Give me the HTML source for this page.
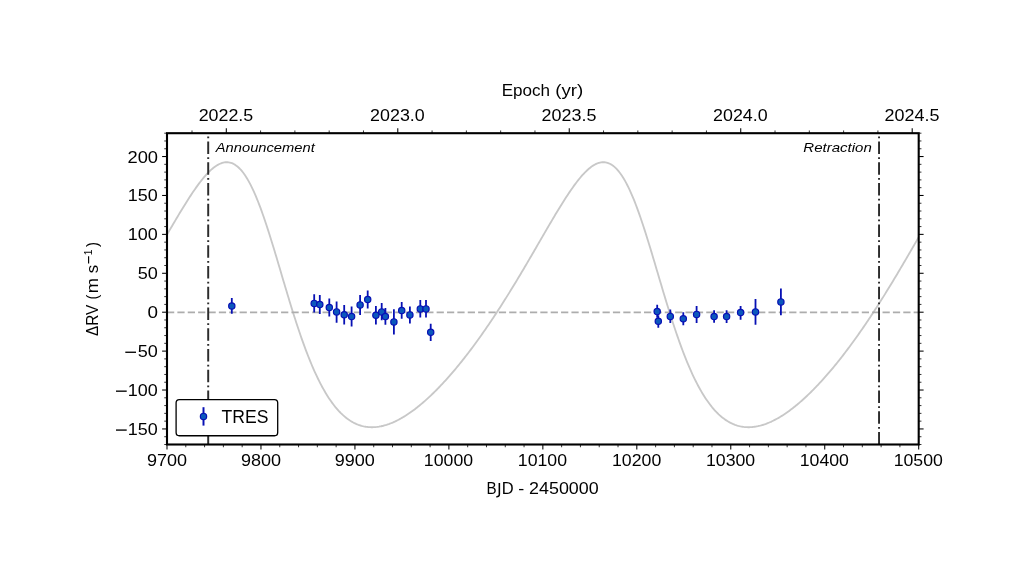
<!DOCTYPE html>
<html><head><meta charset="utf-8"><title>RV</title>
<style>html,body{margin:0;padding:0;background:#fff;}body{width:1024px;height:579px;overflow:hidden;font-family:"Liberation Sans",sans-serif;}svg{display:block}</style>
</head><body>
<svg width="1024" height="579" viewBox="0 0 1024 579">
<rect x="0" y="0" width="1024" height="579" fill="#ffffff"/>
<defs><clipPath id="ax"><rect x="167.00" y="133.20" width="751.70" height="311.30"/></clipPath></defs>
<g clip-path="url(#ax)">
<path d="M162.30,242.81 L163.39,240.93 L164.48,239.05 L165.57,237.17 L166.66,235.29 L167.75,233.41 L168.83,231.54 L169.92,229.66 L171.01,227.80 L172.10,225.93 L173.19,224.07 L174.28,222.22 L175.37,220.37 L176.46,218.53 L177.55,216.70 L178.63,214.87 L179.72,213.06 L180.81,211.25 L181.90,209.46 L182.99,207.68 L184.08,205.91 L185.17,204.16 L186.26,202.42 L187.35,200.69 L188.43,198.99 L189.52,197.30 L190.61,195.63 L191.70,193.99 L192.79,192.36 L193.88,190.76 L194.97,189.19 L196.06,187.64 L197.14,186.12 L198.23,184.63 L199.32,183.17 L200.41,181.74 L201.50,180.35 L202.59,178.99 L203.68,177.67 L204.77,176.39 L205.86,175.15 L206.94,173.96 L208.03,172.81 L209.12,171.71 L210.21,170.66 L211.30,169.65 L212.39,168.71 L213.48,167.81 L214.57,166.98 L215.65,166.20 L216.74,165.49 L217.83,164.84 L218.92,164.26 L220.01,163.74 L221.10,163.30 L222.19,162.93 L223.28,162.63 L224.37,162.41 L225.45,162.27 L226.54,162.21 L227.63,162.24 L228.72,162.35 L229.81,162.54 L230.90,162.83 L231.99,163.21 L233.08,163.68 L234.17,164.24 L235.25,164.90 L236.34,165.66 L237.43,166.51 L238.52,167.47 L239.61,168.52 L240.70,169.67 L241.79,170.93 L242.88,172.29 L243.96,173.75 L245.05,175.31 L246.14,176.98 L247.23,178.74 L248.32,180.61 L249.41,182.58 L250.50,184.65 L251.59,186.81 L252.68,189.08 L253.76,191.43 L254.85,193.88 L255.94,196.43 L257.03,199.06 L258.12,201.77 L259.21,204.57 L260.30,207.45 L261.39,210.41 L262.47,213.44 L263.56,216.54 L264.65,219.71 L265.74,222.95 L266.83,226.24 L267.92,229.59 L269.01,232.98 L270.10,236.43 L271.19,239.92 L272.27,243.45 L273.36,247.01 L274.45,250.60 L275.54,254.21 L276.63,257.85 L277.72,261.51 L278.81,265.17 L279.90,268.85 L280.98,272.53 L282.07,276.21 L283.16,279.89 L284.25,283.56 L285.34,287.21 L286.43,290.86 L287.52,294.48 L288.61,298.08 L289.70,301.66 L290.78,305.21 L291.87,308.73 L292.96,312.21 L294.05,315.66 L295.14,319.07 L296.23,322.43 L297.32,325.76 L298.41,329.03 L299.50,332.26 L300.58,335.45 L301.67,338.58 L302.76,341.65 L303.85,344.68 L304.94,347.65 L306.03,350.56 L307.12,353.42 L308.21,356.22 L309.29,358.96 L310.38,361.64 L311.47,364.26 L312.56,366.83 L313.65,369.33 L314.74,371.78 L315.83,374.16 L316.92,376.48 L318.01,378.75 L319.09,380.95 L320.18,383.10 L321.27,385.18 L322.36,387.21 L323.45,389.17 L324.54,391.08 L325.63,392.93 L326.72,394.73 L327.80,396.46 L328.89,398.14 L329.98,399.77 L331.07,401.34 L332.16,402.85 L333.25,404.31 L334.34,405.72 L335.43,407.08 L336.52,408.38 L337.60,409.63 L338.69,410.84 L339.78,411.99 L340.87,413.10 L341.96,414.15 L343.05,415.16 L344.14,416.12 L345.23,417.04 L346.32,417.91 L347.40,418.74 L348.49,419.53 L349.58,420.27 L350.67,420.97 L351.76,421.63 L352.85,422.25 L353.94,422.83 L355.03,423.36 L356.11,423.87 L357.20,424.33 L358.29,424.76 L359.38,425.14 L360.47,425.50 L361.56,425.82 L362.65,426.10 L363.74,426.35 L364.83,426.57 L365.91,426.76 L367.00,426.91 L368.09,427.03 L369.18,427.12 L370.27,427.18 L371.36,427.21 L372.45,427.22 L373.54,427.19 L374.62,427.13 L375.71,427.05 L376.80,426.94 L377.89,426.80 L378.98,426.64 L380.07,426.45 L381.16,426.24 L382.25,426.00 L383.34,425.74 L384.42,425.45 L385.51,425.14 L386.60,424.81 L387.69,424.45 L388.78,424.08 L389.87,423.67 L390.96,423.25 L392.05,422.81 L393.14,422.35 L394.22,421.86 L395.31,421.36 L396.40,420.83 L397.49,420.29 L398.58,419.72 L399.67,419.14 L400.76,418.54 L401.85,417.92 L402.93,417.28 L404.02,416.63 L405.11,415.95 L406.20,415.26 L407.29,414.55 L408.38,413.83 L409.47,413.09 L410.56,412.33 L411.65,411.56 L412.73,410.77 L413.82,409.96 L414.91,409.14 L416.00,408.30 L417.09,407.45 L418.18,406.59 L419.27,405.71 L420.36,404.81 L421.44,403.90 L422.53,402.97 L423.62,402.04 L424.71,401.08 L425.80,400.12 L426.89,399.14 L427.98,398.14 L429.07,397.14 L430.16,396.12 L431.24,395.09 L432.33,394.04 L433.42,392.98 L434.51,391.91 L435.60,390.83 L436.69,389.73 L437.78,388.62 L438.87,387.50 L439.96,386.37 L441.04,385.22 L442.13,384.07 L443.22,382.90 L444.31,381.72 L445.40,380.53 L446.49,379.32 L447.58,378.11 L448.67,376.88 L449.75,375.64 L450.84,374.39 L451.93,373.14 L453.02,371.86 L454.11,370.58 L455.20,369.29 L456.29,367.99 L457.38,366.67 L458.47,365.35 L459.55,364.01 L460.64,362.67 L461.73,361.31 L462.82,359.94 L463.91,358.57 L465.00,357.18 L466.09,355.78 L467.18,354.37 L468.26,352.95 L469.35,351.53 L470.44,350.09 L471.53,348.64 L472.62,347.18 L473.71,345.71 L474.80,344.24 L475.89,342.75 L476.98,341.25 L478.06,339.74 L479.15,338.23 L480.24,336.70 L481.33,335.17 L482.42,333.62 L483.51,332.07 L484.60,330.50 L485.69,328.93 L486.77,327.35 L487.86,325.76 L488.95,324.16 L490.04,322.55 L491.13,320.93 L492.22,319.30 L493.31,317.67 L494.40,316.02 L495.49,314.37 L496.57,312.71 L497.66,311.04 L498.75,309.36 L499.84,307.67 L500.93,305.97 L502.02,304.27 L503.11,302.56 L504.20,300.84 L505.29,299.11 L506.37,297.38 L507.46,295.63 L508.55,293.88 L509.64,292.12 L510.73,290.36 L511.82,288.59 L512.91,286.81 L514.00,285.02 L515.08,283.23 L516.17,281.43 L517.26,279.62 L518.35,277.81 L519.44,275.99 L520.53,274.17 L521.62,272.34 L522.71,270.51 L523.80,268.67 L524.88,266.82 L525.97,264.97 L527.06,263.12 L528.15,261.26 L529.24,259.40 L530.33,257.53 L531.42,255.67 L532.51,253.79 L533.59,251.92 L534.68,250.04 L535.77,248.17 L536.86,246.29 L537.95,244.41 L539.04,242.53 L540.13,240.65 L541.22,238.76 L542.31,236.88 L543.39,235.01 L544.48,233.13 L545.57,231.26 L546.66,229.38 L547.75,227.52 L548.84,225.65 L549.93,223.80 L551.02,221.94 L552.11,220.10 L553.19,218.26 L554.28,216.42 L555.37,214.60 L556.46,212.79 L557.55,210.99 L558.64,209.19 L559.73,207.41 L560.82,205.65 L561.90,203.90 L562.99,202.16 L564.08,200.44 L565.17,198.74 L566.26,197.05 L567.35,195.39 L568.44,193.74 L569.53,192.12 L570.62,190.53 L571.70,188.96 L572.79,187.41 L573.88,185.89 L574.97,184.41 L576.06,182.95 L577.15,181.53 L578.24,180.14 L579.33,178.79 L580.41,177.48 L581.50,176.20 L582.59,174.97 L583.68,173.79 L584.77,172.64 L585.86,171.55 L586.95,170.50 L588.04,169.51 L589.13,168.57 L590.21,167.68 L591.30,166.86 L592.39,166.09 L593.48,165.39 L594.57,164.75 L595.66,164.18 L596.75,163.67 L597.84,163.24 L598.93,162.88 L600.01,162.59 L601.10,162.39 L602.19,162.26 L603.28,162.21 L604.37,162.25 L605.46,162.37 L606.55,162.58 L607.64,162.88 L608.72,163.27 L609.81,163.76 L610.90,164.33 L611.99,165.01 L613.08,165.78 L614.17,166.65 L615.26,167.62 L616.35,168.69 L617.44,169.86 L618.52,171.13 L619.61,172.50 L620.70,173.98 L621.79,175.56 L622.88,177.24 L623.97,179.02 L625.06,180.90 L626.15,182.88 L627.23,184.97 L628.32,187.15 L629.41,189.42 L630.50,191.79 L631.59,194.26 L632.68,196.81 L633.77,199.46 L634.86,202.19 L635.95,205.00 L637.03,207.89 L638.12,210.86 L639.21,213.90 L640.30,217.01 L641.39,220.19 L642.48,223.44 L643.57,226.74 L644.66,230.09 L645.74,233.50 L646.83,236.95 L647.92,240.44 L649.01,243.98 L650.10,247.54 L651.19,251.14 L652.28,254.76 L653.37,258.40 L654.46,262.06 L655.54,265.72 L656.63,269.40 L657.72,273.08 L658.81,276.76 L659.90,280.44 L660.99,284.11 L662.08,287.76 L663.17,291.40 L664.26,295.02 L665.34,298.62 L666.43,302.19 L667.52,305.74 L668.61,309.25 L669.70,312.73 L670.79,316.17 L671.88,319.57 L672.97,322.93 L674.05,326.25 L675.14,329.52 L676.23,332.74 L677.32,335.92 L678.41,339.04 L679.50,342.11 L680.59,345.13 L681.68,348.09 L682.77,350.99 L683.85,353.84 L684.94,356.63 L686.03,359.36 L687.12,362.04 L688.21,364.65 L689.30,367.21 L690.39,369.70 L691.48,372.14 L692.56,374.51 L693.65,376.83 L694.74,379.08 L695.83,381.28 L696.92,383.41 L698.01,385.49 L699.10,387.51 L700.19,389.46 L701.28,391.36 L702.36,393.21 L703.45,394.99 L704.54,396.72 L705.63,398.39 L706.72,400.01 L707.81,401.57 L708.90,403.07 L709.99,404.53 L711.08,405.93 L712.16,407.28 L713.25,408.57 L714.34,409.82 L715.43,411.01 L716.52,412.16 L717.61,413.26 L718.70,414.31 L719.79,415.31 L720.87,416.27 L721.96,417.18 L723.05,418.04 L724.14,418.86 L725.23,419.64 L726.32,420.38 L727.41,421.07 L728.50,421.72 L729.59,422.34 L730.67,422.91 L731.76,423.44 L732.85,423.94 L733.94,424.39 L735.03,424.82 L736.12,425.20 L737.21,425.55 L738.30,425.86 L739.38,426.14 L740.47,426.39 L741.56,426.60 L742.65,426.78 L743.74,426.93 L744.83,427.05 L745.92,427.13 L747.01,427.19 L748.10,427.22 L749.18,427.21 L750.27,427.18 L751.36,427.12 L752.45,427.04 L753.54,426.92 L754.63,426.78 L755.72,426.62 L756.81,426.42 L757.90,426.21 L758.98,425.96 L760.07,425.70 L761.16,425.41 L762.25,425.09 L763.34,424.76 L764.43,424.40 L765.52,424.02 L766.61,423.61 L767.69,423.19 L768.78,422.74 L769.87,422.27 L770.96,421.79 L772.05,421.28 L773.14,420.75 L774.23,420.20 L775.32,419.64 L776.41,419.05 L777.49,418.45 L778.58,417.83 L779.67,417.19 L780.76,416.53 L781.85,415.85 L782.94,415.16 L784.03,414.45 L785.12,413.72 L786.20,412.98 L787.29,412.22 L788.38,411.44 L789.47,410.65 L790.56,409.84 L791.65,409.02 L792.74,408.18 L793.83,407.32 L794.92,406.46 L796.00,405.57 L797.09,404.67 L798.18,403.76 L799.27,402.84 L800.36,401.89 L801.45,400.94 L802.54,399.97 L803.63,398.99 L804.72,397.99 L805.80,396.99 L806.89,395.96 L807.98,394.93 L809.07,393.88 L810.16,392.82 L811.25,391.75 L812.34,390.66 L813.43,389.56 L814.51,388.45 L815.60,387.33 L816.69,386.20 L817.78,385.05 L818.87,383.89 L819.96,382.72 L821.05,381.54 L822.14,380.35 L823.23,379.14 L824.31,377.92 L825.40,376.70 L826.49,375.46 L827.58,374.21 L828.67,372.95 L829.76,371.67 L830.85,370.39 L831.94,369.10 L833.02,367.79 L834.11,366.48 L835.20,365.15 L836.29,363.81 L837.38,362.46 L838.47,361.11 L839.56,359.74 L840.65,358.36 L841.74,356.97 L842.82,355.57 L843.91,354.16 L845.00,352.74 L846.09,351.31 L847.18,349.87 L848.27,348.42 L849.36,346.96 L850.45,345.49 L851.53,344.01 L852.62,342.52 L853.71,341.03 L854.80,339.52 L855.89,338.00 L856.98,336.47 L858.07,334.94 L859.16,333.39 L860.25,331.83 L861.33,330.27 L862.42,328.69 L863.51,327.11 L864.60,325.52 L865.69,323.92 L866.78,322.31 L867.87,320.69 L868.96,319.06 L870.05,317.42 L871.13,315.77 L872.22,314.12 L873.31,312.46 L874.40,310.78 L875.49,309.10 L876.58,307.42 L877.67,305.72 L878.76,304.01 L879.84,302.30 L880.93,300.58 L882.02,298.85 L883.11,297.12 L884.20,295.37 L885.29,293.62 L886.38,291.86 L887.47,290.09 L888.56,288.32 L889.64,286.54 L890.73,284.75 L891.82,282.96 L892.91,281.16 L894.00,279.35 L895.09,277.54 L896.18,275.72 L897.27,273.90 L898.35,272.07 L899.44,270.23 L900.53,268.39 L901.62,266.55 L902.71,264.70 L903.80,262.84 L904.89,260.98 L905.98,259.12 L907.07,257.25 L908.15,255.39 L909.24,253.51 L910.33,251.64 L911.42,249.76 L912.51,247.89 L913.60,246.01 L914.69,244.13 L915.78,242.24 L916.87,240.36 L917.95,238.48 L919.04,236.60 L920.13,234.73 L921.22,232.85 L922.31,230.98 L923.40,229.10" fill="none" stroke="#c8c8c8" stroke-width="1.85" stroke-linejoin="round"/>
<line x1="167.00" x2="918.70" y1="312.40" y2="312.40" stroke="#adadad" stroke-width="1.8" stroke-dasharray="7.24 3.13"/>
<line x1="208.20" x2="208.20" y1="444.50" y2="133.20" stroke="#2c2c2c" stroke-width="1.96" stroke-dasharray="12.53 3.13 1.96 3.13"/>
<line x1="879.05" x2="879.05" y1="444.50" y2="133.20" stroke="#2c2c2c" stroke-width="1.96" stroke-dasharray="12.53 3.13 1.96 3.13"/>
<line x1="231.80" x2="231.80" y1="298.00" y2="313.80" stroke="#0710b4" stroke-width="1.8"/>
<line x1="314.20" x2="314.20" y1="294.20" y2="312.50" stroke="#0710b4" stroke-width="1.8"/>
<line x1="319.80" x2="319.80" y1="295.10" y2="314.10" stroke="#0710b4" stroke-width="1.8"/>
<line x1="329.30" x2="329.30" y1="298.50" y2="316.60" stroke="#0710b4" stroke-width="1.8"/>
<line x1="336.60" x2="336.60" y1="301.40" y2="322.80" stroke="#0710b4" stroke-width="1.8"/>
<line x1="344.20" x2="344.20" y1="304.90" y2="324.40" stroke="#0710b4" stroke-width="1.8"/>
<line x1="351.60" x2="351.60" y1="306.40" y2="326.60" stroke="#0710b4" stroke-width="1.8"/>
<line x1="360.10" x2="360.10" y1="295.10" y2="314.90" stroke="#0710b4" stroke-width="1.8"/>
<line x1="367.70" x2="367.70" y1="290.50" y2="308.60" stroke="#0710b4" stroke-width="1.8"/>
<line x1="375.90" x2="375.90" y1="306.10" y2="324.40" stroke="#0710b4" stroke-width="1.8"/>
<line x1="381.70" x2="381.70" y1="303.10" y2="320.30" stroke="#0710b4" stroke-width="1.8"/>
<line x1="385.40" x2="385.40" y1="308.10" y2="324.70" stroke="#0710b4" stroke-width="1.8"/>
<line x1="393.90" x2="393.90" y1="309.30" y2="334.50" stroke="#0710b4" stroke-width="1.8"/>
<line x1="401.70" x2="401.70" y1="302.00" y2="318.80" stroke="#0710b4" stroke-width="1.8"/>
<line x1="409.90" x2="409.90" y1="306.40" y2="323.40" stroke="#0710b4" stroke-width="1.8"/>
<line x1="420.30" x2="420.30" y1="300.10" y2="317.40" stroke="#0710b4" stroke-width="1.8"/>
<line x1="426.00" x2="426.00" y1="300.10" y2="317.40" stroke="#0710b4" stroke-width="1.8"/>
<line x1="430.70" x2="430.70" y1="323.70" y2="341.10" stroke="#0710b4" stroke-width="1.8"/>
<line x1="657.20" x2="657.20" y1="304.70" y2="317.70" stroke="#0710b4" stroke-width="1.8"/>
<line x1="658.30" x2="658.30" y1="315.30" y2="327.80" stroke="#0710b4" stroke-width="1.8"/>
<line x1="670.30" x2="670.30" y1="309.50" y2="323.10" stroke="#0710b4" stroke-width="1.8"/>
<line x1="683.30" x2="683.30" y1="312.20" y2="325.20" stroke="#0710b4" stroke-width="1.8"/>
<line x1="696.60" x2="696.60" y1="305.90" y2="323.10" stroke="#0710b4" stroke-width="1.8"/>
<line x1="714.10" x2="714.10" y1="310.20" y2="322.80" stroke="#0710b4" stroke-width="1.8"/>
<line x1="726.60" x2="726.60" y1="310.30" y2="323.10" stroke="#0710b4" stroke-width="1.8"/>
<line x1="740.60" x2="740.60" y1="305.90" y2="319.70" stroke="#0710b4" stroke-width="1.8"/>
<line x1="755.50" x2="755.50" y1="298.90" y2="324.70" stroke="#0710b4" stroke-width="1.8"/>
<line x1="780.90" x2="780.90" y1="288.40" y2="315.30" stroke="#0710b4" stroke-width="1.8"/>
<circle cx="231.80" cy="306.05" r="3.15" fill="#0c58bc" stroke="#0710b4" stroke-width="1.2"/>
<circle cx="314.20" cy="303.40" r="3.15" fill="#0c58bc" stroke="#0710b4" stroke-width="1.2"/>
<circle cx="319.80" cy="304.60" r="3.15" fill="#0c58bc" stroke="#0710b4" stroke-width="1.2"/>
<circle cx="329.30" cy="307.50" r="3.15" fill="#0c58bc" stroke="#0710b4" stroke-width="1.2"/>
<circle cx="336.60" cy="311.90" r="3.15" fill="#0c58bc" stroke="#0710b4" stroke-width="1.2"/>
<circle cx="344.20" cy="314.70" r="3.15" fill="#0c58bc" stroke="#0710b4" stroke-width="1.2"/>
<circle cx="351.60" cy="316.60" r="3.15" fill="#0c58bc" stroke="#0710b4" stroke-width="1.2"/>
<circle cx="360.10" cy="304.90" r="3.15" fill="#0c58bc" stroke="#0710b4" stroke-width="1.2"/>
<circle cx="367.70" cy="299.50" r="3.15" fill="#0c58bc" stroke="#0710b4" stroke-width="1.2"/>
<circle cx="375.90" cy="315.20" r="3.15" fill="#0c58bc" stroke="#0710b4" stroke-width="1.2"/>
<circle cx="381.70" cy="311.90" r="3.15" fill="#0c58bc" stroke="#0710b4" stroke-width="1.2"/>
<circle cx="385.40" cy="316.60" r="3.15" fill="#0c58bc" stroke="#0710b4" stroke-width="1.2"/>
<circle cx="393.90" cy="321.90" r="3.15" fill="#0c58bc" stroke="#0710b4" stroke-width="1.2"/>
<circle cx="401.70" cy="310.50" r="3.15" fill="#0c58bc" stroke="#0710b4" stroke-width="1.2"/>
<circle cx="409.90" cy="314.90" r="3.15" fill="#0c58bc" stroke="#0710b4" stroke-width="1.2"/>
<circle cx="420.30" cy="308.90" r="3.15" fill="#0c58bc" stroke="#0710b4" stroke-width="1.2"/>
<circle cx="426.00" cy="308.90" r="3.15" fill="#0c58bc" stroke="#0710b4" stroke-width="1.2"/>
<circle cx="430.70" cy="332.30" r="3.15" fill="#0c58bc" stroke="#0710b4" stroke-width="1.2"/>
<circle cx="657.20" cy="311.60" r="3.15" fill="#0c58bc" stroke="#0710b4" stroke-width="1.2"/>
<circle cx="658.30" cy="321.30" r="3.15" fill="#0c58bc" stroke="#0710b4" stroke-width="1.2"/>
<circle cx="670.30" cy="316.40" r="3.15" fill="#0c58bc" stroke="#0710b4" stroke-width="1.2"/>
<circle cx="683.30" cy="318.80" r="3.15" fill="#0c58bc" stroke="#0710b4" stroke-width="1.2"/>
<circle cx="696.60" cy="314.40" r="3.15" fill="#0c58bc" stroke="#0710b4" stroke-width="1.2"/>
<circle cx="714.10" cy="316.60" r="3.15" fill="#0c58bc" stroke="#0710b4" stroke-width="1.2"/>
<circle cx="726.60" cy="316.60" r="3.15" fill="#0c58bc" stroke="#0710b4" stroke-width="1.2"/>
<circle cx="740.60" cy="312.50" r="3.15" fill="#0c58bc" stroke="#0710b4" stroke-width="1.2"/>
<circle cx="755.50" cy="311.90" r="3.15" fill="#0c58bc" stroke="#0710b4" stroke-width="1.2"/>
<circle cx="780.90" cy="301.90" r="3.15" fill="#0c58bc" stroke="#0710b4" stroke-width="1.2"/>
</g>
<line x1="167.00" x2="167.00" y1="444.50" y2="449.40" stroke="#000" stroke-width="1.05"/>
<line x1="185.79" x2="185.79" y1="444.50" y2="447.25" stroke="#000" stroke-width="0.8"/>
<line x1="204.59" x2="204.59" y1="444.50" y2="447.25" stroke="#000" stroke-width="0.8"/>
<line x1="223.38" x2="223.38" y1="444.50" y2="447.25" stroke="#000" stroke-width="0.8"/>
<line x1="242.17" x2="242.17" y1="444.50" y2="447.25" stroke="#000" stroke-width="0.8"/>
<line x1="260.96" x2="260.96" y1="444.50" y2="449.40" stroke="#000" stroke-width="1.05"/>
<line x1="279.75" x2="279.75" y1="444.50" y2="447.25" stroke="#000" stroke-width="0.8"/>
<line x1="298.55" x2="298.55" y1="444.50" y2="447.25" stroke="#000" stroke-width="0.8"/>
<line x1="317.34" x2="317.34" y1="444.50" y2="447.25" stroke="#000" stroke-width="0.8"/>
<line x1="336.13" x2="336.13" y1="444.50" y2="447.25" stroke="#000" stroke-width="0.8"/>
<line x1="354.93" x2="354.93" y1="444.50" y2="449.40" stroke="#000" stroke-width="1.05"/>
<line x1="373.72" x2="373.72" y1="444.50" y2="447.25" stroke="#000" stroke-width="0.8"/>
<line x1="392.51" x2="392.51" y1="444.50" y2="447.25" stroke="#000" stroke-width="0.8"/>
<line x1="411.30" x2="411.30" y1="444.50" y2="447.25" stroke="#000" stroke-width="0.8"/>
<line x1="430.10" x2="430.10" y1="444.50" y2="447.25" stroke="#000" stroke-width="0.8"/>
<line x1="448.89" x2="448.89" y1="444.50" y2="449.40" stroke="#000" stroke-width="1.05"/>
<line x1="467.68" x2="467.68" y1="444.50" y2="447.25" stroke="#000" stroke-width="0.8"/>
<line x1="486.47" x2="486.47" y1="444.50" y2="447.25" stroke="#000" stroke-width="0.8"/>
<line x1="505.27" x2="505.27" y1="444.50" y2="447.25" stroke="#000" stroke-width="0.8"/>
<line x1="524.06" x2="524.06" y1="444.50" y2="447.25" stroke="#000" stroke-width="0.8"/>
<line x1="542.85" x2="542.85" y1="444.50" y2="449.40" stroke="#000" stroke-width="1.05"/>
<line x1="561.64" x2="561.64" y1="444.50" y2="447.25" stroke="#000" stroke-width="0.8"/>
<line x1="580.43" x2="580.43" y1="444.50" y2="447.25" stroke="#000" stroke-width="0.8"/>
<line x1="599.23" x2="599.23" y1="444.50" y2="447.25" stroke="#000" stroke-width="0.8"/>
<line x1="618.02" x2="618.02" y1="444.50" y2="447.25" stroke="#000" stroke-width="0.8"/>
<line x1="636.81" x2="636.81" y1="444.50" y2="449.40" stroke="#000" stroke-width="1.05"/>
<line x1="655.61" x2="655.61" y1="444.50" y2="447.25" stroke="#000" stroke-width="0.8"/>
<line x1="674.40" x2="674.40" y1="444.50" y2="447.25" stroke="#000" stroke-width="0.8"/>
<line x1="693.19" x2="693.19" y1="444.50" y2="447.25" stroke="#000" stroke-width="0.8"/>
<line x1="711.98" x2="711.98" y1="444.50" y2="447.25" stroke="#000" stroke-width="0.8"/>
<line x1="730.77" x2="730.77" y1="444.50" y2="449.40" stroke="#000" stroke-width="1.05"/>
<line x1="749.57" x2="749.57" y1="444.50" y2="447.25" stroke="#000" stroke-width="0.8"/>
<line x1="768.36" x2="768.36" y1="444.50" y2="447.25" stroke="#000" stroke-width="0.8"/>
<line x1="787.15" x2="787.15" y1="444.50" y2="447.25" stroke="#000" stroke-width="0.8"/>
<line x1="805.95" x2="805.95" y1="444.50" y2="447.25" stroke="#000" stroke-width="0.8"/>
<line x1="824.74" x2="824.74" y1="444.50" y2="449.40" stroke="#000" stroke-width="1.05"/>
<line x1="843.53" x2="843.53" y1="444.50" y2="447.25" stroke="#000" stroke-width="0.8"/>
<line x1="862.32" x2="862.32" y1="444.50" y2="447.25" stroke="#000" stroke-width="0.8"/>
<line x1="881.12" x2="881.12" y1="444.50" y2="447.25" stroke="#000" stroke-width="0.8"/>
<line x1="899.91" x2="899.91" y1="444.50" y2="447.25" stroke="#000" stroke-width="0.8"/>
<line x1="918.70" x2="918.70" y1="444.50" y2="449.40" stroke="#000" stroke-width="1.05"/>
<line x1="192.01" x2="192.01" y1="133.20" y2="130.45" stroke="#000" stroke-width="0.8"/>
<line x1="226.30" x2="226.30" y1="133.20" y2="128.30" stroke="#000" stroke-width="1.05"/>
<line x1="260.59" x2="260.59" y1="133.20" y2="130.45" stroke="#000" stroke-width="0.8"/>
<line x1="294.89" x2="294.89" y1="133.20" y2="130.45" stroke="#000" stroke-width="0.8"/>
<line x1="329.18" x2="329.18" y1="133.20" y2="130.45" stroke="#000" stroke-width="0.8"/>
<line x1="363.48" x2="363.48" y1="133.20" y2="130.45" stroke="#000" stroke-width="0.8"/>
<line x1="397.78" x2="397.78" y1="133.20" y2="128.30" stroke="#000" stroke-width="1.05"/>
<line x1="432.07" x2="432.07" y1="133.20" y2="130.45" stroke="#000" stroke-width="0.8"/>
<line x1="466.37" x2="466.37" y1="133.20" y2="130.45" stroke="#000" stroke-width="0.8"/>
<line x1="500.66" x2="500.66" y1="133.20" y2="130.45" stroke="#000" stroke-width="0.8"/>
<line x1="534.96" x2="534.96" y1="133.20" y2="130.45" stroke="#000" stroke-width="0.8"/>
<line x1="569.25" x2="569.25" y1="133.20" y2="128.30" stroke="#000" stroke-width="1.05"/>
<line x1="603.54" x2="603.54" y1="133.20" y2="130.45" stroke="#000" stroke-width="0.8"/>
<line x1="637.84" x2="637.84" y1="133.20" y2="130.45" stroke="#000" stroke-width="0.8"/>
<line x1="672.13" x2="672.13" y1="133.20" y2="130.45" stroke="#000" stroke-width="0.8"/>
<line x1="706.43" x2="706.43" y1="133.20" y2="130.45" stroke="#000" stroke-width="0.8"/>
<line x1="740.73" x2="740.73" y1="133.20" y2="128.30" stroke="#000" stroke-width="1.05"/>
<line x1="775.02" x2="775.02" y1="133.20" y2="130.45" stroke="#000" stroke-width="0.8"/>
<line x1="809.32" x2="809.32" y1="133.20" y2="130.45" stroke="#000" stroke-width="0.8"/>
<line x1="843.61" x2="843.61" y1="133.20" y2="130.45" stroke="#000" stroke-width="0.8"/>
<line x1="877.91" x2="877.91" y1="133.20" y2="130.45" stroke="#000" stroke-width="0.8"/>
<line x1="912.20" x2="912.20" y1="133.20" y2="128.30" stroke="#000" stroke-width="1.05"/>
<line y1="444.50" y2="444.50" x1="167.00" x2="164.25" stroke="#000" stroke-width="0.8"/>
<line y1="444.50" y2="444.50" x1="918.70" x2="921.45" stroke="#000" stroke-width="0.8"/>
<line y1="436.72" y2="436.72" x1="167.00" x2="164.25" stroke="#000" stroke-width="0.8"/>
<line y1="436.72" y2="436.72" x1="918.70" x2="921.45" stroke="#000" stroke-width="0.8"/>
<line y1="428.94" y2="428.94" x1="167.00" x2="162.10" stroke="#000" stroke-width="1.05"/>
<line y1="428.94" y2="428.94" x1="918.70" x2="923.60" stroke="#000" stroke-width="1.05"/>
<line y1="421.15" y2="421.15" x1="167.00" x2="164.25" stroke="#000" stroke-width="0.8"/>
<line y1="421.15" y2="421.15" x1="918.70" x2="921.45" stroke="#000" stroke-width="0.8"/>
<line y1="413.37" y2="413.37" x1="167.00" x2="164.25" stroke="#000" stroke-width="0.8"/>
<line y1="413.37" y2="413.37" x1="918.70" x2="921.45" stroke="#000" stroke-width="0.8"/>
<line y1="405.59" y2="405.59" x1="167.00" x2="164.25" stroke="#000" stroke-width="0.8"/>
<line y1="405.59" y2="405.59" x1="918.70" x2="921.45" stroke="#000" stroke-width="0.8"/>
<line y1="397.81" y2="397.81" x1="167.00" x2="164.25" stroke="#000" stroke-width="0.8"/>
<line y1="397.81" y2="397.81" x1="918.70" x2="921.45" stroke="#000" stroke-width="0.8"/>
<line y1="390.02" y2="390.02" x1="167.00" x2="162.10" stroke="#000" stroke-width="1.05"/>
<line y1="390.02" y2="390.02" x1="918.70" x2="923.60" stroke="#000" stroke-width="1.05"/>
<line y1="382.24" y2="382.24" x1="167.00" x2="164.25" stroke="#000" stroke-width="0.8"/>
<line y1="382.24" y2="382.24" x1="918.70" x2="921.45" stroke="#000" stroke-width="0.8"/>
<line y1="374.46" y2="374.46" x1="167.00" x2="164.25" stroke="#000" stroke-width="0.8"/>
<line y1="374.46" y2="374.46" x1="918.70" x2="921.45" stroke="#000" stroke-width="0.8"/>
<line y1="366.68" y2="366.68" x1="167.00" x2="164.25" stroke="#000" stroke-width="0.8"/>
<line y1="366.68" y2="366.68" x1="918.70" x2="921.45" stroke="#000" stroke-width="0.8"/>
<line y1="358.89" y2="358.89" x1="167.00" x2="164.25" stroke="#000" stroke-width="0.8"/>
<line y1="358.89" y2="358.89" x1="918.70" x2="921.45" stroke="#000" stroke-width="0.8"/>
<line y1="351.11" y2="351.11" x1="167.00" x2="162.10" stroke="#000" stroke-width="1.05"/>
<line y1="351.11" y2="351.11" x1="918.70" x2="923.60" stroke="#000" stroke-width="1.05"/>
<line y1="343.33" y2="343.33" x1="167.00" x2="164.25" stroke="#000" stroke-width="0.8"/>
<line y1="343.33" y2="343.33" x1="918.70" x2="921.45" stroke="#000" stroke-width="0.8"/>
<line y1="335.55" y2="335.55" x1="167.00" x2="164.25" stroke="#000" stroke-width="0.8"/>
<line y1="335.55" y2="335.55" x1="918.70" x2="921.45" stroke="#000" stroke-width="0.8"/>
<line y1="327.76" y2="327.76" x1="167.00" x2="164.25" stroke="#000" stroke-width="0.8"/>
<line y1="327.76" y2="327.76" x1="918.70" x2="921.45" stroke="#000" stroke-width="0.8"/>
<line y1="319.98" y2="319.98" x1="167.00" x2="164.25" stroke="#000" stroke-width="0.8"/>
<line y1="319.98" y2="319.98" x1="918.70" x2="921.45" stroke="#000" stroke-width="0.8"/>
<line y1="312.20" y2="312.20" x1="167.00" x2="162.10" stroke="#000" stroke-width="1.05"/>
<line y1="312.20" y2="312.20" x1="918.70" x2="923.60" stroke="#000" stroke-width="1.05"/>
<line y1="304.41" y2="304.41" x1="167.00" x2="164.25" stroke="#000" stroke-width="0.8"/>
<line y1="304.41" y2="304.41" x1="918.70" x2="921.45" stroke="#000" stroke-width="0.8"/>
<line y1="296.63" y2="296.63" x1="167.00" x2="164.25" stroke="#000" stroke-width="0.8"/>
<line y1="296.63" y2="296.63" x1="918.70" x2="921.45" stroke="#000" stroke-width="0.8"/>
<line y1="288.85" y2="288.85" x1="167.00" x2="164.25" stroke="#000" stroke-width="0.8"/>
<line y1="288.85" y2="288.85" x1="918.70" x2="921.45" stroke="#000" stroke-width="0.8"/>
<line y1="281.07" y2="281.07" x1="167.00" x2="164.25" stroke="#000" stroke-width="0.8"/>
<line y1="281.07" y2="281.07" x1="918.70" x2="921.45" stroke="#000" stroke-width="0.8"/>
<line y1="273.28" y2="273.28" x1="167.00" x2="162.10" stroke="#000" stroke-width="1.05"/>
<line y1="273.28" y2="273.28" x1="918.70" x2="923.60" stroke="#000" stroke-width="1.05"/>
<line y1="265.50" y2="265.50" x1="167.00" x2="164.25" stroke="#000" stroke-width="0.8"/>
<line y1="265.50" y2="265.50" x1="918.70" x2="921.45" stroke="#000" stroke-width="0.8"/>
<line y1="257.72" y2="257.72" x1="167.00" x2="164.25" stroke="#000" stroke-width="0.8"/>
<line y1="257.72" y2="257.72" x1="918.70" x2="921.45" stroke="#000" stroke-width="0.8"/>
<line y1="249.94" y2="249.94" x1="167.00" x2="164.25" stroke="#000" stroke-width="0.8"/>
<line y1="249.94" y2="249.94" x1="918.70" x2="921.45" stroke="#000" stroke-width="0.8"/>
<line y1="242.16" y2="242.16" x1="167.00" x2="164.25" stroke="#000" stroke-width="0.8"/>
<line y1="242.16" y2="242.16" x1="918.70" x2="921.45" stroke="#000" stroke-width="0.8"/>
<line y1="234.37" y2="234.37" x1="167.00" x2="162.10" stroke="#000" stroke-width="1.05"/>
<line y1="234.37" y2="234.37" x1="918.70" x2="923.60" stroke="#000" stroke-width="1.05"/>
<line y1="226.59" y2="226.59" x1="167.00" x2="164.25" stroke="#000" stroke-width="0.8"/>
<line y1="226.59" y2="226.59" x1="918.70" x2="921.45" stroke="#000" stroke-width="0.8"/>
<line y1="218.81" y2="218.81" x1="167.00" x2="164.25" stroke="#000" stroke-width="0.8"/>
<line y1="218.81" y2="218.81" x1="918.70" x2="921.45" stroke="#000" stroke-width="0.8"/>
<line y1="211.03" y2="211.03" x1="167.00" x2="164.25" stroke="#000" stroke-width="0.8"/>
<line y1="211.03" y2="211.03" x1="918.70" x2="921.45" stroke="#000" stroke-width="0.8"/>
<line y1="203.24" y2="203.24" x1="167.00" x2="164.25" stroke="#000" stroke-width="0.8"/>
<line y1="203.24" y2="203.24" x1="918.70" x2="921.45" stroke="#000" stroke-width="0.8"/>
<line y1="195.46" y2="195.46" x1="167.00" x2="162.10" stroke="#000" stroke-width="1.05"/>
<line y1="195.46" y2="195.46" x1="918.70" x2="923.60" stroke="#000" stroke-width="1.05"/>
<line y1="187.68" y2="187.68" x1="167.00" x2="164.25" stroke="#000" stroke-width="0.8"/>
<line y1="187.68" y2="187.68" x1="918.70" x2="921.45" stroke="#000" stroke-width="0.8"/>
<line y1="179.89" y2="179.89" x1="167.00" x2="164.25" stroke="#000" stroke-width="0.8"/>
<line y1="179.89" y2="179.89" x1="918.70" x2="921.45" stroke="#000" stroke-width="0.8"/>
<line y1="172.11" y2="172.11" x1="167.00" x2="164.25" stroke="#000" stroke-width="0.8"/>
<line y1="172.11" y2="172.11" x1="918.70" x2="921.45" stroke="#000" stroke-width="0.8"/>
<line y1="164.33" y2="164.33" x1="167.00" x2="164.25" stroke="#000" stroke-width="0.8"/>
<line y1="164.33" y2="164.33" x1="918.70" x2="921.45" stroke="#000" stroke-width="0.8"/>
<line y1="156.55" y2="156.55" x1="167.00" x2="162.10" stroke="#000" stroke-width="1.05"/>
<line y1="156.55" y2="156.55" x1="918.70" x2="923.60" stroke="#000" stroke-width="1.05"/>
<line y1="148.76" y2="148.76" x1="167.00" x2="164.25" stroke="#000" stroke-width="0.8"/>
<line y1="148.76" y2="148.76" x1="918.70" x2="921.45" stroke="#000" stroke-width="0.8"/>
<line y1="140.98" y2="140.98" x1="167.00" x2="164.25" stroke="#000" stroke-width="0.8"/>
<line y1="140.98" y2="140.98" x1="918.70" x2="921.45" stroke="#000" stroke-width="0.8"/>
<line y1="133.20" y2="133.20" x1="167.00" x2="164.25" stroke="#000" stroke-width="0.8"/>
<line y1="133.20" y2="133.20" x1="918.70" x2="921.45" stroke="#000" stroke-width="0.8"/>
<rect x="167.00" y="133.20" width="751.70" height="311.30" fill="none" stroke="#000" stroke-width="2.1"/>
<rect x="176.1" y="399.65" width="101.6" height="36.1" rx="3.2" ry="3.2" fill="#ffffff" stroke="#000" stroke-width="1.3"/>
<line x1="203.5" x2="203.5" y1="407.2" y2="425.6" stroke="#0710b4" stroke-width="1.96"/>
<circle cx="203.5" cy="416.4" r="3.15" fill="#0c58bc" stroke="#0710b4" stroke-width="1.2"/>
<line x1="116.00" x2="126.70" y1="430.08" y2="430.08" stroke="#000" stroke-width="1.35"/>
<line x1="116.00" x2="126.70" y1="391.17" y2="391.17" stroke="#000" stroke-width="1.35"/>
<line x1="125.30" x2="136.00" y1="352.26" y2="352.26" stroke="#000" stroke-width="1.35"/>
<path d="M499.35,482.9 V494.3 Q499.35,496.9 496.3,496.7" fill="none" stroke="#000" stroke-width="1.55" opacity="0.999"/>
<g transform="translate(98.3,335.8) rotate(-90)"><line x1="72.3" x2="79.6" y1="-9.7" y2="-9.7" stroke="#000" stroke-width="1.15"/></g>
<g font-family="'Liberation Sans', sans-serif" fill="#000" opacity="0.999">
<text x="147.04" y="466.35" font-size="15.9" textLength="40.12" lengthAdjust="spacingAndGlyphs">9700</text>
<text x="241.01" y="466.35" font-size="15.9" textLength="40.11" lengthAdjust="spacingAndGlyphs">9800</text>
<text x="334.72" y="466.35" font-size="15.9" textLength="40.11" lengthAdjust="spacingAndGlyphs">9900</text>
<text x="423.87" y="466.35" font-size="15.9" textLength="49.23" lengthAdjust="spacingAndGlyphs">10000</text>
<text x="517.83" y="466.35" font-size="15.9" textLength="49.23" lengthAdjust="spacingAndGlyphs">10100</text>
<text x="612.04" y="466.35" font-size="15.9" textLength="49.23" lengthAdjust="spacingAndGlyphs">10200</text>
<text x="706.01" y="466.35" font-size="15.9" textLength="49.23" lengthAdjust="spacingAndGlyphs">10300</text>
<text x="799.72" y="466.35" font-size="15.9" textLength="49.23" lengthAdjust="spacingAndGlyphs">10400</text>
<text x="893.68" y="466.35" font-size="15.9" textLength="49.23" lengthAdjust="spacingAndGlyphs">10500</text>
<text x="198.65" y="121.10" font-size="15.9" textLength="54.61" lengthAdjust="spacingAndGlyphs">2022.5</text>
<text x="370.12" y="121.10" font-size="15.9" textLength="54.61" lengthAdjust="spacingAndGlyphs">2023.0</text>
<text x="541.60" y="121.10" font-size="15.9" textLength="54.86" lengthAdjust="spacingAndGlyphs">2023.5</text>
<text x="713.07" y="121.10" font-size="15.9" textLength="54.61" lengthAdjust="spacingAndGlyphs">2024.0</text>
<text x="884.55" y="121.10" font-size="15.9" textLength="54.86" lengthAdjust="spacingAndGlyphs">2024.5</text>
<text x="127.87" y="434.94" font-size="15.9" textLength="29.95" lengthAdjust="spacingAndGlyphs">150</text>
<text x="127.87" y="396.02" font-size="15.9" textLength="29.95" lengthAdjust="spacingAndGlyphs">100</text>
<text x="137.70" y="357.11" font-size="15.9" textLength="20.11" lengthAdjust="spacingAndGlyphs">50</text>
<text x="147.55" y="318.20" font-size="15.9" textLength="10.50" lengthAdjust="spacingAndGlyphs">0</text>
<text x="137.70" y="279.28" font-size="15.9" textLength="20.12" lengthAdjust="spacingAndGlyphs">50</text>
<text x="127.87" y="240.37" font-size="15.9" textLength="29.95" lengthAdjust="spacingAndGlyphs">100</text>
<text x="127.87" y="201.46" font-size="15.9" textLength="29.95" lengthAdjust="spacingAndGlyphs">150</text>
<text x="127.49" y="162.55" font-size="15.9" textLength="30.57" lengthAdjust="spacingAndGlyphs">200</text>
<text x="501.67" y="95.60" font-size="15.9" textLength="48.36" lengthAdjust="spacingAndGlyphs">Epoch</text>
<text x="555.31" y="95.60" font-size="15.9" textLength="28.02" lengthAdjust="spacingAndGlyphs">(yr)</text>
<text x="486.57" y="494.10" font-size="15.9" textLength="10.13" lengthAdjust="spacingAndGlyphs">B</text>
<text x="501.77" y="494.10" font-size="15.9" textLength="11.92" lengthAdjust="spacingAndGlyphs">D</text>
<text x="518.23" y="494.10" font-size="15.9" textLength="6.03" lengthAdjust="spacingAndGlyphs">-</text>
<text x="529.10" y="494.10" font-size="15.9" textLength="69.60" lengthAdjust="spacingAndGlyphs">2450000</text>
<text x="215.80" y="152.00" font-size="13.3" textLength="98.92" lengthAdjust="spacingAndGlyphs" font-style="italic">Announcement</text>
<text x="803.30" y="152.00" font-size="13.3" textLength="68.55" lengthAdjust="spacingAndGlyphs" font-style="italic">Retraction</text>
<text x="221.60" y="422.75" font-size="18.4" textLength="46.95" lengthAdjust="spacingAndGlyphs">TRES</text>
<g transform="translate(98.3,335.8) rotate(-90)"><text x="-0.25" y="0.00" font-size="15.9" textLength="31.34" lengthAdjust="spacingAndGlyphs">ΔRV</text></g>
<g transform="translate(98.3,335.8) rotate(-90)"><text x="36.43" y="0.00" font-size="15.9" textLength="4.81" lengthAdjust="spacingAndGlyphs">(</text></g>
<g transform="translate(98.3,335.8) rotate(-90)"><text x="42.65" y="0.00" font-size="15.9" textLength="15.31" lengthAdjust="spacingAndGlyphs">m</text></g>
<g transform="translate(98.3,335.8) rotate(-90)"><text x="62.51" y="0.00" font-size="15.9" textLength="8.42" lengthAdjust="spacingAndGlyphs">s</text></g>
<g transform="translate(98.3,335.8) rotate(-90)"><text x="80.58" y="-5.90" font-size="11.1" textLength="5.68" lengthAdjust="spacingAndGlyphs">1</text></g>
<g transform="translate(98.3,335.8) rotate(-90)"><text x="88.90" y="0.00" font-size="15.9" textLength="4.98" lengthAdjust="spacingAndGlyphs">)</text></g>
</g>
</svg>
</body></html>
